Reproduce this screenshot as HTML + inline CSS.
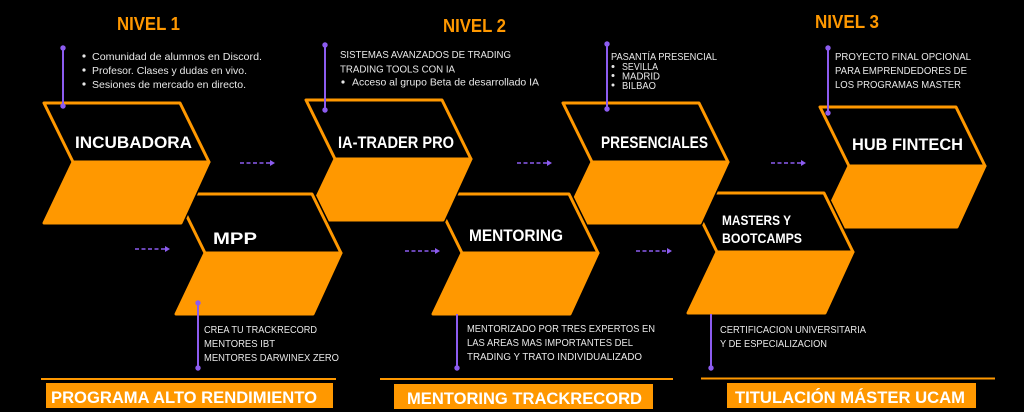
<!DOCTYPE html>
<html>
<head>
<meta charset="utf-8">
<style>
  html,body{margin:0;padding:0;background:#000;}
  svg{display:block;}
  text{font-family:"Liberation Sans","DejaVu Sans",sans-serif;}
  .h{fill:#fff;font-weight:bold;font-size:16.5px;}
  .d{fill:#e8e8e8;font-size:10.5px;}
  .n{fill:#ff9800;font-weight:bold;font-size:18px;}
  .b{fill:#fff;font-weight:bold;font-size:16.5px;}
</style>
</head>
<body>
<svg width="1024" height="412" viewBox="0 0 1024 412" xmlns="http://www.w3.org/2000/svg">
  <rect x="0" y="0" width="1024" height="412" fill="#000"/>
  <defs>
    <g id="shp">
      <path d="M0,0 L136,0 L165,59 L137,120 L0,120 L29,59 Z" fill="#000" stroke="#000" stroke-width="6" stroke-linejoin="round"/>
      <path d="M29,59 L165,59 L137,120 L0,120 Z" fill="#ff9800" stroke="#ff9800" stroke-width="3" stroke-linejoin="round"/>
      <path d="M0,0 L136,0 L165,59 L29,59 Z" fill="#000" stroke="#ff9800" stroke-width="3" stroke-linejoin="round"/>
    </g>
  </defs>

  <!-- shapes drawn right to left so the left shape overlaps the right -->
  <use href="#shp" transform="translate(820,107)"/>
  <use href="#shp" transform="translate(688,193)"/>
  <use href="#shp" transform="translate(563,103)"/>
  <use href="#shp" transform="translate(433,194)"/>
  <use href="#shp" transform="translate(306,100)"/>
  <use href="#shp" transform="translate(176,194)"/>
  <use href="#shp" transform="translate(44,103)"/>

  <!-- shape labels -->
  <text class="h" x="75" y="148" textLength="117" lengthAdjust="spacingAndGlyphs">INCUBADORA</text>
  <text class="h" x="213" y="244" textLength="44" lengthAdjust="spacingAndGlyphs">MPP</text>
  <text class="h" x="338" y="148" textLength="116" lengthAdjust="spacingAndGlyphs">IA-TRADER PRO</text>
  <text class="h" x="469" y="241" textLength="94" lengthAdjust="spacingAndGlyphs">MENTORING</text>
  <text class="h" x="601" y="148" textLength="107" lengthAdjust="spacingAndGlyphs">PRESENCIALES</text>
  <text class="h" x="722" y="225" style="font-size:14px" textLength="69" lengthAdjust="spacingAndGlyphs">MASTERS Y</text>
  <text class="h" x="722" y="243" style="font-size:14px" textLength="80" lengthAdjust="spacingAndGlyphs">BOOTCAMPS</text>
  <text class="h" x="852" y="150" textLength="111" lengthAdjust="spacingAndGlyphs">HUB FINTECH</text>

  <!-- NIVEL headings -->
  <text class="n" x="117" y="30" textLength="63" lengthAdjust="spacingAndGlyphs">NIVEL 1</text>
  <text class="n" x="443" y="32" textLength="63" lengthAdjust="spacingAndGlyphs">NIVEL 2</text>
  <text class="n" x="815" y="28" textLength="64" lengthAdjust="spacingAndGlyphs">NIVEL 3</text>

  <!-- purple connector lines -->
  <g stroke="#8c5cf0" stroke-width="2" fill="none">
    <line x1="63" y1="48" x2="63" y2="106"/>
    <line x1="325" y1="45" x2="325" y2="110"/>
    <line x1="607" y1="44" x2="607" y2="109"/>
    <line x1="828" y1="48" x2="828" y2="113"/>
    <line x1="198" y1="303" x2="198" y2="368"/>
    <line x1="457" y1="314" x2="457" y2="368"/>
    <line x1="711" y1="314" x2="711" y2="368"/>
  </g>
  <g fill="#8c5cf0">
    <circle cx="63" cy="48" r="2.7"/><circle cx="63" cy="106" r="2.7"/>
    <circle cx="325" cy="45" r="2.7"/><circle cx="325" cy="110" r="2.7"/>
    <circle cx="607" cy="44" r="2.7"/><circle cx="607" cy="109" r="2.7"/>
    <circle cx="828" cy="48" r="2.7"/><circle cx="828" cy="113" r="2.7"/>
    <circle cx="198" cy="303" r="2.7"/><circle cx="198" cy="368" r="2.7"/>
    <circle cx="457" cy="368" r="2.7"/>
    <circle cx="711" cy="368" r="2.7"/>
  </g>

  <!-- dashed arrows -->
  <g stroke="#8c5cf0" stroke-width="1.6" stroke-dasharray="4 2.5" fill="none">
    <line x1="240" y1="163" x2="271" y2="163"/>
    <line x1="135" y1="249" x2="166" y2="249"/>
    <line x1="517" y1="163" x2="548" y2="163"/>
    <line x1="405" y1="251" x2="436" y2="251"/>
    <line x1="636" y1="251" x2="668" y2="251"/>
    <line x1="771" y1="163" x2="802" y2="163"/>
  </g>
  <g fill="#8c5cf0">
    <path d="M270,160 L275,163 L270,166 Z"/>
    <path d="M165,246 L170,249 L165,252 Z"/>
    <path d="M547,160 L552,163 L547,166 Z"/>
    <path d="M435,248 L440,251 L435,254 Z"/>
    <path d="M667,248 L672,251 L667,254 Z"/>
    <path d="M801,160 L806,163 L801,166 Z"/>
  </g>

  <!-- Block 1 description -->
  <g fill="#e8e8e8">
    <circle cx="84" cy="56" r="1.6"/><circle cx="84" cy="70" r="1.6"/><circle cx="84" cy="84" r="1.6"/>
    <circle cx="343" cy="82" r="1.6"/>
    <circle cx="613" cy="66.5" r="1.5"/><circle cx="613" cy="75.5" r="1.5"/><circle cx="613" cy="85" r="1.5"/>
  </g>
  <text class="d" x="92" y="60" textLength="170" lengthAdjust="spacingAndGlyphs">Comunidad de alumnos en Discord.</text>
  <text class="d" x="92" y="74" textLength="155" lengthAdjust="spacingAndGlyphs">Profesor. Clases y dudas en vivo.</text>
  <text class="d" x="92" y="88" textLength="154" lengthAdjust="spacingAndGlyphs">Sesiones de mercado en directo.</text>

  <!-- Block 2 description -->
  <text class="d" x="340" y="58" textLength="171" lengthAdjust="spacingAndGlyphs">SISTEMAS AVANZADOS DE TRADING</text>
  <text class="d" x="340" y="72.5" textLength="115" lengthAdjust="spacingAndGlyphs">TRADING TOOLS CON IA</text>
  <text class="d" x="352" y="85.5" textLength="187" lengthAdjust="spacingAndGlyphs">Acceso al grupo Beta de desarrollado IA</text>

  <!-- Block 3 description -->
  <text class="d" x="611" y="60" textLength="106" lengthAdjust="spacingAndGlyphs">PASANTÍA PRESENCIAL</text>
  <text class="d" x="622" y="70" style="font-size:10px" textLength="36" lengthAdjust="spacingAndGlyphs">SEVILLA</text>
  <text class="d" x="622" y="79.5" style="font-size:10px" textLength="38" lengthAdjust="spacingAndGlyphs">MADRID</text>
  <text class="d" x="622" y="89" style="font-size:10px" textLength="34" lengthAdjust="spacingAndGlyphs">BILBAO</text>

  <!-- Block 4 description -->
  <text class="d" x="835" y="60" textLength="136" lengthAdjust="spacingAndGlyphs">PROYECTO FINAL OPCIONAL</text>
  <text class="d" x="835" y="74" textLength="132" lengthAdjust="spacingAndGlyphs">PARA EMPRENDEDORES DE</text>
  <text class="d" x="835" y="88" textLength="126" lengthAdjust="spacingAndGlyphs">LOS PROGRAMAS MASTER</text>

  <!-- Bottom descriptions -->
  <text class="d" x="204" y="333" textLength="113" lengthAdjust="spacingAndGlyphs">CREA TU TRACKRECORD</text>
  <text class="d" x="204" y="347" textLength="71" lengthAdjust="spacingAndGlyphs">MENTORES IBT</text>
  <text class="d" x="204" y="361" textLength="135" lengthAdjust="spacingAndGlyphs">MENTORES DARWINEX ZERO</text>

  <text class="d" x="467" y="332" textLength="188" lengthAdjust="spacingAndGlyphs">MENTORIZADO POR TRES EXPERTOS EN</text>
  <text class="d" x="467" y="346" textLength="166" lengthAdjust="spacingAndGlyphs">LAS AREAS MAS IMPORTANTES DEL</text>
  <text class="d" x="467" y="360" textLength="175" lengthAdjust="spacingAndGlyphs">TRADING Y TRATO INDIVIDUALIZADO</text>

  <text class="d" x="720" y="333" textLength="146" lengthAdjust="spacingAndGlyphs">CERTIFICACION UNIVERSITARIA</text>
  <text class="d" x="720" y="347" textLength="107" lengthAdjust="spacingAndGlyphs">Y DE ESPECIALIZACION</text>

  <!-- orange separator lines -->
  <g fill="#ff9800">
    <rect x="41" y="378" width="295" height="2"/>
    <rect x="380" y="378" width="293" height="2"/>
    <rect x="701" y="377.5" width="294" height="2"/>
  </g>

  <!-- banners -->
  <rect x="46" y="383" width="287" height="25" fill="#ff9800"/>
  <rect x="394" y="384" width="259" height="25" fill="#ff9800"/>
  <rect x="727" y="383" width="249" height="25" fill="#ff9800"/>
  <text class="b" x="51" y="403" textLength="266" lengthAdjust="spacingAndGlyphs">PROGRAMA ALTO RENDIMIENTO</text>
  <text class="b" x="407" y="404" textLength="235" lengthAdjust="spacingAndGlyphs">MENTORING TRACKRECORD</text>
  <text class="b" x="735" y="403" textLength="230" lengthAdjust="spacingAndGlyphs">TITULACIÓN MÁSTER UCAM</text>
</svg>
</body>
</html>
